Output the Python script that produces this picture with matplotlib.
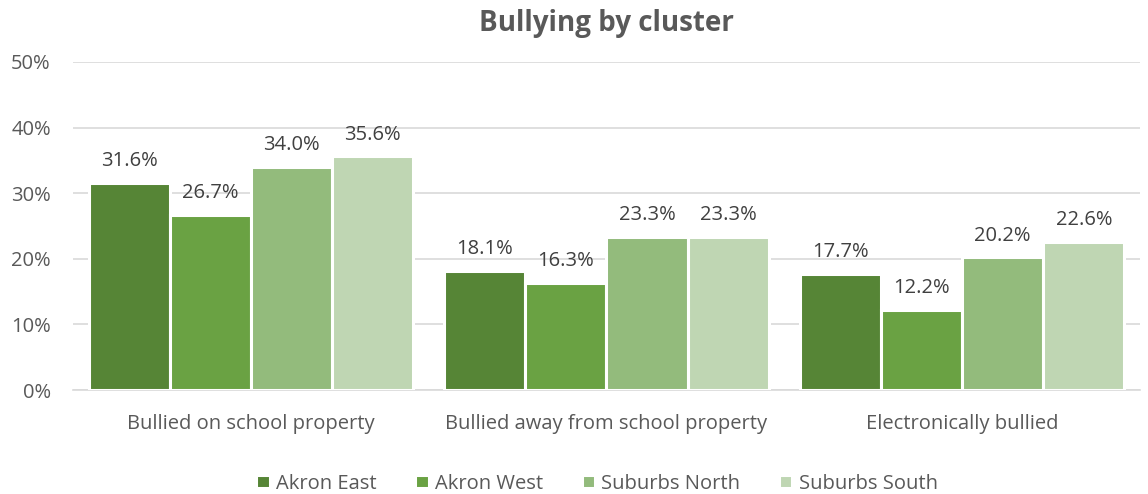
import numpy as np
import matplotlib

matplotlib.use("Agg")
import matplotlib.pyplot as plt

plt.rcParams["font.family"] = ["Open Sans", "DejaVu Sans"]

categories = ["Bullied on school property", "Bullied away from school property", "Electronically bullied"]
series = ["Akron East", "Akron West", "Suburbs North", "Suburbs South"]
akron_east = [31.6, 18.1, 17.7]
akron_west = [26.7, 16.3, 12.2]
suburbs_north = [34.0, 23.3, 20.2]
suburbs_south = [35.6, 23.3, 22.6]
colors = ["#568536", "#6AA243", "#93BB7C", "#BFD6B3"]

values = [akron_east, akron_west, suburbs_north, suburbs_south]

fig = plt.figure(figsize=(11.48, 4.94), dpi=100)
ax = fig.add_axes([0.0636, 0.2105, 0.9294, 0.664])

x = np.arange(len(categories))
width = 0.228
for i, (name, vals, c) in enumerate(zip(series, values, colors)):
    pos = x + (i - 1.5) * width
    bars = ax.bar(pos, vals, width, color=c, edgecolor="white", linewidth=2.2,
                  label=name, zorder=3)
    for b, v in zip(bars, vals):
        ax.text(b.get_x() + b.get_width() / 2, v + 1.8, f"{v:.1f}%",
                ha="center", va="bottom", fontsize=14.5, color="#404040")

ax.set_xlim(-0.5, 2.5)
ax.set_ylim(0, 50)
ax.set_yticks(np.arange(0, 51, 10))
ax.set_yticklabels([f"{t}%" for t in range(0, 51, 10)])
ax.set_xticks(x)
ax.set_xticklabels(categories)
ax.tick_params(axis="both", length=0, labelsize=14.5, colors="#595959")
ax.tick_params(axis="x", pad=17)
ax.tick_params(axis="y", pad=16)
ax.grid(axis="y", color="#D9D9D9", linewidth=1.2, zorder=0)
for s in ["top", "right", "left"]:
    ax.spines[s].set_visible(False)
ax.spines["bottom"].set_color("#D9D9D9")
ax.spines["bottom"].set_linewidth(1.2)

ax.set_title("Bullying by cluster", fontsize=20, fontweight="bold", color="#595959", pad=22)

fig.legend(loc="lower center", bbox_to_anchor=(0.52, -0.036), ncol=4, frameon=False,
           fontsize=14.5, labelcolor="#595959", handlelength=0.65, handleheight=0.65,
           handletextpad=0.3, columnspacing=1.95)

fig.savefig("out.png", dpi=100)
